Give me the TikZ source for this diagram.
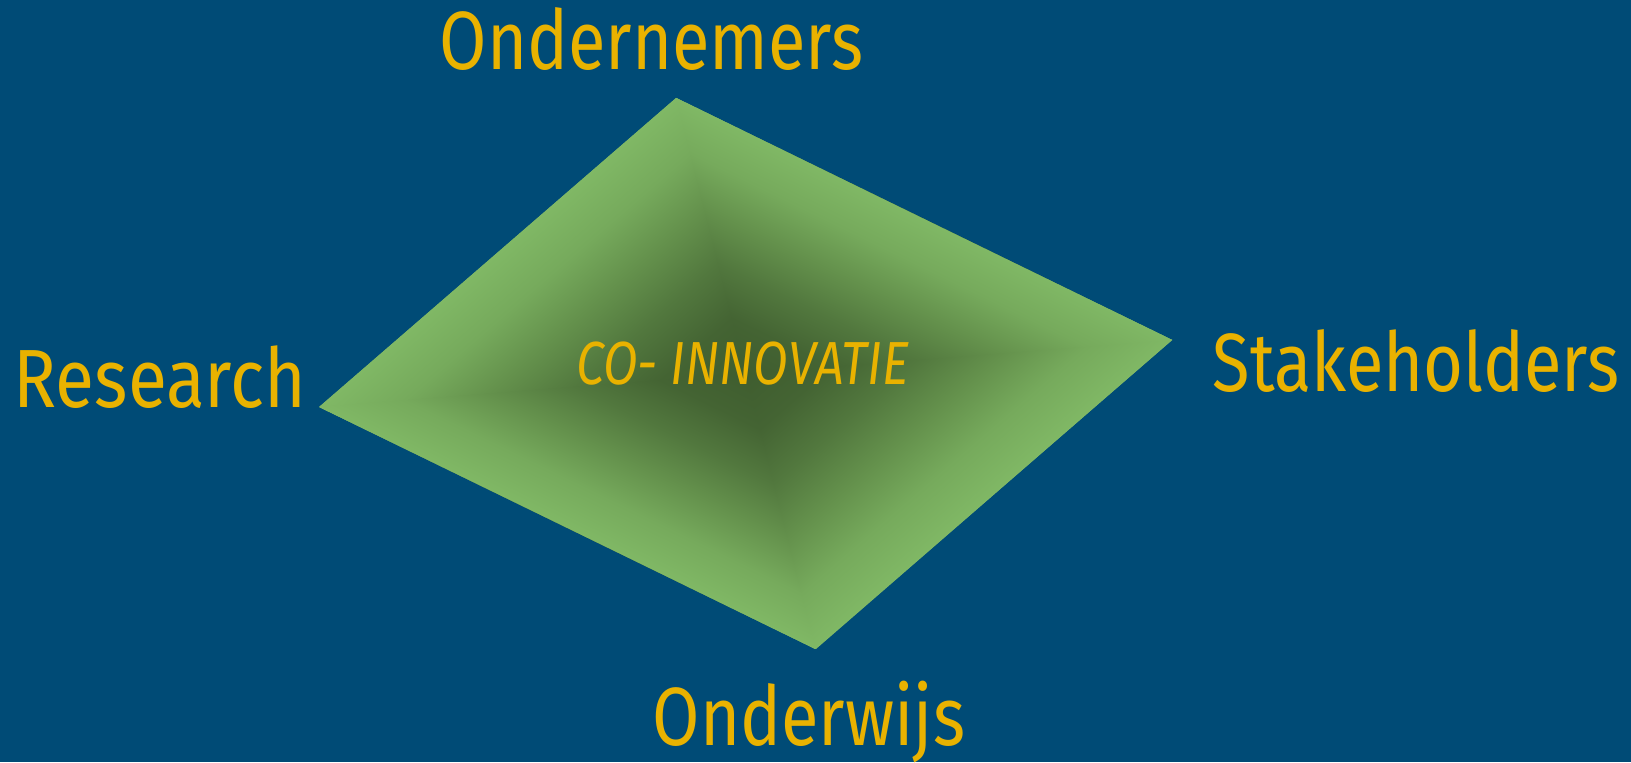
\documentclass[tikz,border=0pt]{standalone}
\usepackage{fontspec}
\setmainfont{Fira Sans}[FakeStretch=0.83]
\definecolor{bgblue}{RGB}{0,75,118}
\definecolor{gold}{RGB}{233,178,0}
\definecolor{leafdark}{RGB}{63,93,47}
\definecolor{leafa}{RGB}{68,100,51}
\definecolor{leafb}{RGB}{82,120,62}
\definecolor{leafc}{RGB}{100,145,76}
\definecolor{leafd}{RGB}{118,170,92}
\definecolor{leaflight}{RGB}{128,184,101}
\pgfdeclareverticalshading{leaf}{100bp}{color(0bp)=(leafdark); color(25bp)=(leafdark); color(35bp)=(leafa); color(45bp)=(leafb); color(55bp)=(leafc); color(65bp)=(leafd); color(75bp)=(leaflight); color(100bp)=(leaflight)}
\tikzset{actor/.style={text=gold, font=\fontsize{23.5}{28}\selectfont, anchor=base, inner sep=0pt},
  core/.style={text=gold, font=\fontsize{17.3}{20}\selectfont\itshape, anchor=base, inner sep=0pt}}

\begin{document}
\begin{tikzpicture}
\useasboundingbox[fill=bgblue] (0,0) rectangle (16.31,7.62);
\coordinate (top) at (6.76,6.64);
\coordinate (right) at (11.72,4.22);
\coordinate (bottom) at (8.16,1.13);
\coordinate (left) at (3.19,3.55);

% the diamond, shaded darker towards the middle
\fill[leaflight] (top) -- (right) -- (bottom) -- (left) -- cycle;
\begin{scope}[transform canvas={cm={1.785,1.545,2.48,-1.21,(7.4575,3.885)}}]
  \shade[shading=leaf, shading angle=0]   (-1,0) rectangle (1,1);
  \shade[shading=leaf, shading angle=180] (-1,-1) rectangle (1,0);
  \shade[shading=leaf, shading angle=270] (0,0) -- (1,1) -- (1,-1) -- cycle;
  \shade[shading=leaf, shading angle=90]  (0,0) -- (-1,1) -- (-1,-1) -- cycle;
\end{scope}

\node[actor] (ond) at (6.515,6.92) {Ondernemers};
\node[actor, xscale=1.04] (res) at (1.60,3.54) {Research};
\node[actor] (sta) at (14.16,3.70) {Stakeholders};
\node[actor] (onw) at (8.09,0.16) {Onderwijs};
\node[core]  (co)  at (7.425,3.77) {CO- INNOVATIE};
\end{tikzpicture}
\end{document}
